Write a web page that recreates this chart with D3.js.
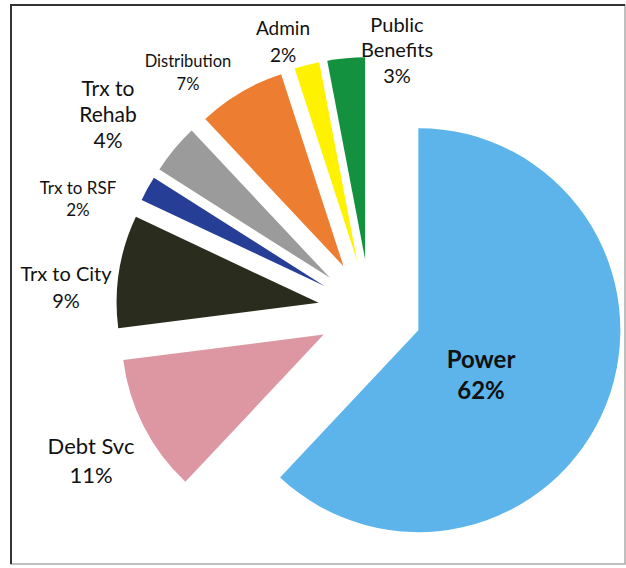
<!DOCTYPE html>
<meta charset="utf-8">
<style>
body { margin: 0; background: #fff; }
text { font-family: Lato, "Open Sans", sans-serif; fill: #111; }
</style>
<svg width="626" height="568"></svg>
<script src="https://d3js.org/d3.v7.min.js"></script>
<script>

// Data, clockwise from 12 o'clock
var categories = ["Power", "Debt Svc", "Trx to City", "Trx to RSF", "Trx to Rehab", "Distribution", "Admin", "Public Benefits"];
var values     = [62, 11, 9, 2, 4, 7, 2, 3];
var colors     = ["#5cb4ea", "#dc97a3", "#2a2c1e", "#263e96", "#9b9b9b", "#ed7d31", "#fff200", "#13913f"];

// label placement: centre of text block, font size, line height, words per line
var labelLayout = [
  {x: 481, y: 375, size: 24, lh: 31, bold: true, wrap: [1]},
  {x: 91,  y: 461, size: 22, lh: 29, wrap: null},
  {x: 66,  y: 287, size: 20, lh: 27, wrap: null},
  {x: 78,  y: 199, size: 17, lh: 22, wrap: null},
  {x: 108, y: 115, size: 21, lh: 26, wrap: [2, 1]},
  {x: 188, y: 73,  size: 16.5, lh: 23, wrap: null},
  {x: 283, y: 42,  size: 19, lh: 27, wrap: null},
  {x: 397, y: 50,  size: 20, lh: 25.5, wrap: [1, 1]}
];

var svg = d3.select("svg"),
    width = +svg.attr("width"),
    height = +svg.attr("height");

// frame
svg.append("rect")
    .attr("x", 11).attr("y", 5)
    .attr("width", 614).attr("height", 559)
    .attr("fill", "none")
    .attr("stroke", "#aaa")
    .attr("stroke-width", 1.5);
svg.append("path")
    .attr("d", "M11,564V5H625")
    .attr("fill", "none")
    .attr("stroke", "#333")
    .attr("stroke-width", 2);

var cx = 370, cy = 311,
    radius = 202,
    explode = 52;

var pie = d3.pie().sort(null).value(function(d) { return d; });
var arc = d3.arc().innerRadius(0).outerRadius(radius);

var arcs = pie(values);

var g = svg.append("g").attr("transform", "translate(" + cx + "," + cy + ")");

g.selectAll("path")
  .data(arcs)
  .enter().append("path")
    .attr("fill", function(d, i) { return colors[i]; })
    .attr("d", arc)
    .attr("transform", function(d) {
      var a = (d.startAngle + d.endAngle) / 2;
      return "translate(" + (Math.sin(a) * explode) + "," + (-Math.cos(a) * explode) + ")";
    });

// labels
arcs.forEach(function(d, i) {
  var L = labelLayout[i],
      words = categories[i].split(" "),
      lines = [];
  if (L.wrap) {
    var k = 0;
    L.wrap.forEach(function(n) { lines.push(words.slice(k, k + n).join(" ")); k += n; });
    if (k < words.length) lines[lines.length - 1] += " " + words.slice(k).join(" ");
  } else {
    lines.push(categories[i]);
  }
  lines.push(values[i] + "%");

  var top = L.y - (lines.length - 1) * L.lh / 2;
  var t = svg.append("text")
      .attr("text-anchor", "middle")
      .attr("font-size", L.size)
      .attr("font-weight", L.bold ? "bold" : null);
  lines.forEach(function(s, j) {
    t.append("tspan")
        .attr("x", L.x)
        .attr("y", top + j * L.lh + L.size * 0.35)
        .text(s);
  });
});

</script>
